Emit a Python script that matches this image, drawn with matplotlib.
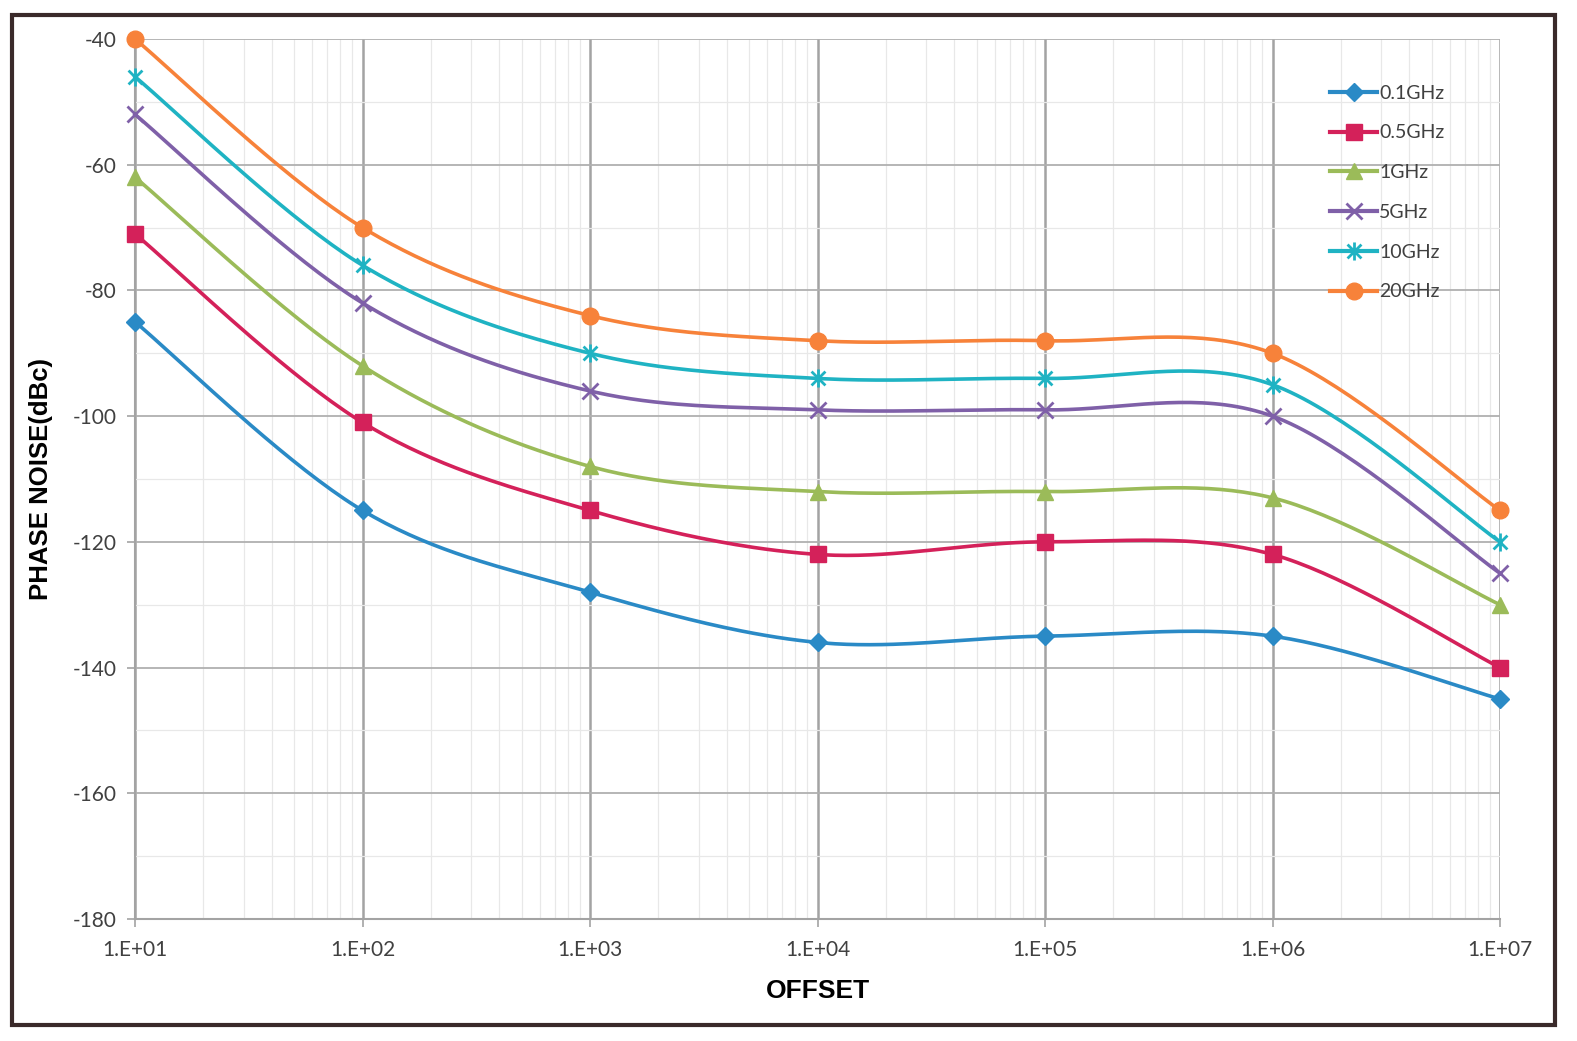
import numpy as np
import matplotlib
matplotlib.use("Agg")
import matplotlib.pyplot as plt
from matplotlib.path import Path
from matplotlib.patches import Rectangle
from matplotlib.ticker import FixedLocator, LogLocator, MultipleLocator, NullFormatter

# ---- data ----
offsets = [1e1, 1e2, 1e3, 1e4, 1e5, 1e6, 1e7]
series_names = ["0.1GHz", "0.5GHz", "1GHz", "5GHz", "10GHz", "20GHz"]
pn_01 = [-85, -115, -128, -136, -135, -135, -145]
pn_05 = [-71, -101, -115, -122, -120, -122, -140]
pn_1 = [-62, -92, -108, -112, -112, -113, -130]
pn_5 = [-52, -82, -96, -99, -99, -100, -125]
pn_10 = [-46, -76, -90, -94, -94, -95, -120]
pn_20 = [-40, -70, -84, -88, -88, -90, -115]
series_values = [pn_01, pn_05, pn_1, pn_5, pn_10, pn_20]
xtick_labels = ["1.E+01", "1.E+02", "1.E+03", "1.E+04", "1.E+05", "1.E+06", "1.E+07"]
yticks = [-180, -160, -140, -120, -100, -80, -60, -40]

colors = ["#2A8AC6", "#D4215A", "#9BBB59", "#7F60A8", "#1FB3C3", "#F7823A"]

# asterisk marker (x plus vertical bar)
ast = Path([(-1, -1), (1, 1), (-1, 1), (1, -1), (0, -1.3), (0, 1.3)],
           [Path.MOVETO, Path.LINETO, Path.MOVETO, Path.LINETO, Path.MOVETO, Path.LINETO])
markers = ["D", "s", "^", "x", ast, "o"]
msizes = [9, 11, 12, 12, 13, 12]


def smooth(xs, ys, n=40):
    """Catmull-Rom style smoothing (like Excel smoothed lines) in log-x space."""
    lx = np.log10(np.asarray(xs, float))
    y = np.asarray(ys, float)
    P = np.column_stack([lx, y])
    out = []
    for i in range(len(P) - 1):
        p0 = P[i - 1] if i > 0 else P[i]
        p1 = P[i]
        p2 = P[i + 1]
        p3 = P[i + 2] if i + 2 < len(P) else P[i + 1]
        c1 = p1 + (p2 - p0) / 6.0
        c2 = p2 - (p3 - p1) / 6.0
        t = np.linspace(0, 1, n)[:, None]
        seg = ((1 - t) ** 3) * p1 + 3 * ((1 - t) ** 2) * t * c1 + 3 * (1 - t) * t ** 2 * c2 + t ** 3 * p2
        out.append(seg if i == 0 else seg[1:])
    out = np.vstack(out)
    return 10 ** out[:, 0], out[:, 1]


fig = plt.figure(figsize=(15.77, 10.41), dpi=100)
ax = fig.add_axes([135 / 1577, 1 - 919 / 1041, (1500 - 135) / 1577, (919 - 39) / 1041])

for name, vals, c, m, ms in zip(series_names, series_values, colors, markers, msizes):
    sx, sy = smooth(offsets, vals)
    ax.plot(sx, sy, color=c, lw=2.6, zorder=3, clip_on=False)
    mew = 2.0 if (isinstance(m, str) and m == "x") or m is ast else 1.0
    ax.plot(offsets, vals, linestyle="none", marker=m, markersize=ms, color=c,
            markeredgecolor=c, markeredgewidth=mew, zorder=4, clip_on=False)
    # legend proxy
    ax.plot([], [], color=c, lw=3.0, marker=m, markersize=ms, markeredgecolor=c,
            markeredgewidth=mew, label=name)

ax.set_xscale("log")
ax.set_xlim(1e1, 1e7)
ax.set_ylim(-180, -40)
ax.xaxis.set_major_locator(FixedLocator(offsets))
ax.set_xticklabels(xtick_labels)
ax.xaxis.set_minor_locator(LogLocator(base=10, subs=np.arange(2, 10), numticks=100))
ax.xaxis.set_minor_formatter(NullFormatter())
ax.set_yticks(yticks)
ax.set_yticklabels([str(v) for v in yticks])
ax.yaxis.set_minor_locator(MultipleLocator(10))

ax.grid(True, which="major", axis="x", color="#a3a3a3", lw=1.8, zorder=1)
ax.grid(True, which="major", axis="y", color="#b0b0b0", lw=1.3, zorder=1)
ax.grid(True, which="minor", axis="both", color="#e8e8e8", lw=0.9, zorder=0)

for s in ["top", "right"]:
    ax.spines[s].set_visible(False)
for s in ["left", "bottom"]:
    ax.spines[s].set_color("#a3a3a3")
    ax.spines[s].set_linewidth(1.5)

ax.tick_params(axis="both", which="major", direction="out", length=6, width=1.2,
               color="#a3a3a3", labelcolor="#404040", labelsize=15)
ax.tick_params(axis="both", which="minor", length=0)
ax.tick_params(axis="x", pad=9)
ax.tick_params(axis="y", pad=7)
for lab in ax.get_xticklabels() + ax.get_yticklabels():
    lab.set_family(["Lato", "DejaVu Sans"])

ax.set_xlabel("OFFSET", fontsize=19, fontweight="bold", family="Liberation Sans", labelpad=14)
ax.set_ylabel("PHASE NOISE(dBc)", fontsize=18.5, fontweight="bold", family="Liberation Sans", labelpad=14)

leg = ax.legend(loc="upper left", bbox_to_anchor=(0.863, 0.968), frameon=False,
                handlelength=2.4, handletextpad=0.1, labelspacing=1.17,
                prop={"family": ["Lato", "DejaVu Sans"], "size": 14})
for t in leg.get_texts():
    t.set_color("#404040")

fig.patches.append(Rectangle((12 / 1577, 1 - 1025 / 1041), (1555 - 12) / 1577, (1025 - 15) / 1041,
                             transform=fig.transFigure, fill=False, edgecolor="#3a2a2a", lw=3))

fig.savefig("out.png", dpi=100, facecolor="white")
